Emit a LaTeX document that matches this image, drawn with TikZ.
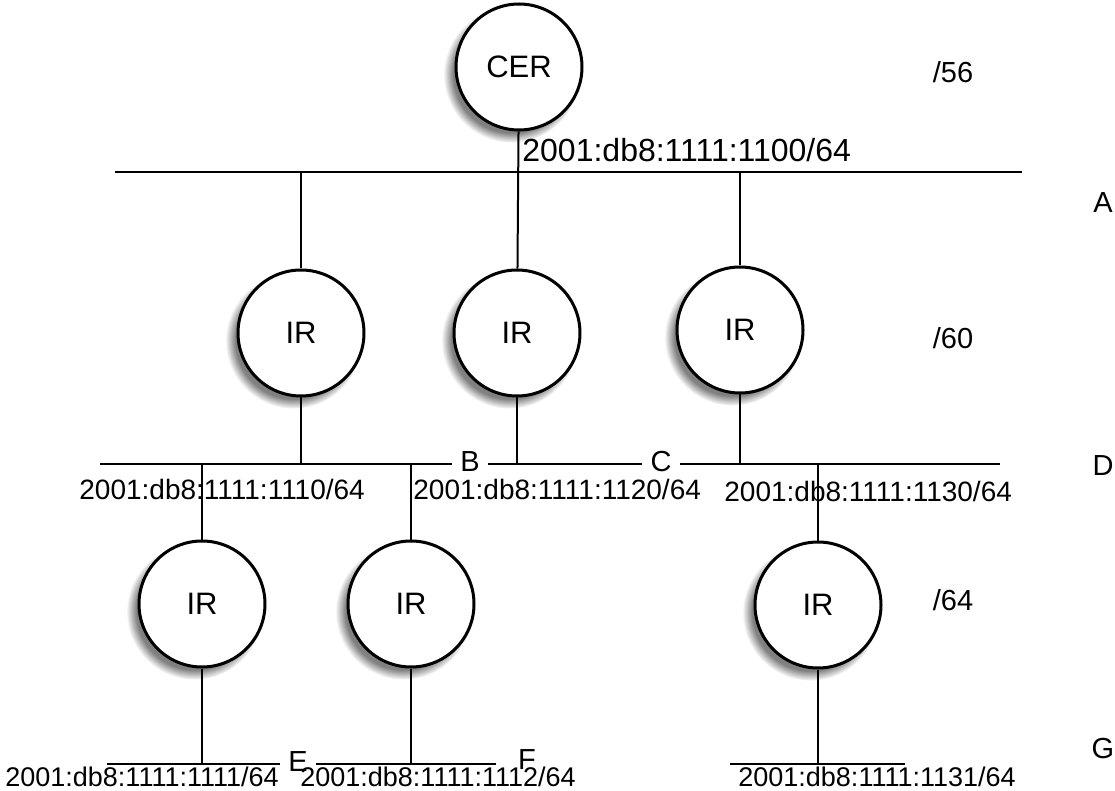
\documentclass[tikz,border=0pt]{standalone}
\usepackage{fontspec}
\setmainfont{Liberation Sans}
\usetikzlibrary{positioning, shadows, calc}

\begin{document}
\begin{tikzpicture}[
    x=0.5pt, y=-0.5pt,
    router/.style={
        circle, draw, line width=1.5pt, fill=white, minimum size=63pt, inner sep=0pt,
        font=\fontsize{15.5}{18}\selectfont,
        circular drop shadow={shadow xshift=-3.5pt, shadow yshift=-3.5pt, shadow scale=1.08}
    },
    link/.style={line width=1pt},
    addr/.style={font=\fontsize{14}{17}\selectfont, anchor=west, inner sep=0pt},
    level/.style={font=\fontsize{14.5}{17}\selectfont, inner sep=0pt},
    cut/.style={font=\fontsize{14.5}{17}\selectfont, inner xsep=4pt, inner ysep=0pt},
]

% ── Canvas ──
\useasboundingbox[fill=white] (0,0) rectangle (1115,791);

% ── Routers ──
\node[router] (cer) at (519,67)  {CER};
\node[router] (ir1) at (301,333) {IR};
\node[router] (ir2) at (517,333) {IR};
\node[router] (ir3) at (740,330) {IR};
\node[router] (ir4) at (202,604) {IR};
\node[router] (ir5) at (411,604) {IR};
\node[router] (ir6) at (818,605) {IR};

% ── Link ends ──
\coordinate (aL) at (115,172);
\coordinate (aR) at (1022,172);
\coordinate (dL) at (100,464);
\coordinate (dR) at (1000,464);
\coordinate (eL) at (107,764);
\coordinate (fR) at (496,764);
\coordinate (gL) at (730,764);
\coordinate (gR) at (905,764);

% ── Link labels ──
\node[cut] (B) at (470,462) {B};
\node[cut] (C) at (661,462) {C};
\node[cut] (E) at (298,762) {E};
\node[level] (F) at (527,760) {F};

% ── Levels ──
\node[level] (lvlA) at (1103,203) {A};
\node[level] (lvlD) at (1103,466) {D};
\node[level] (lvlG) at (1103,749) {G};
\node[level] (pre56) at (953,72)  {/56};
\node[level] (pre60) at (953,338) {/60};
\node[level] (pre64) at (953,600) {/64};

% ── Links ──
\draw[link] (aL) -- (aR);
\draw[link] (cer) -- (ir2);
\draw[link] (ir1) -- (ir1 |- aL);
\draw[link] (ir3) -- (ir3 |- aL);

\draw[link] (dL) -- (dL -| B.west)
            (dL -| B.east) -- (dL -| C.west)
            (dL -| C.east) -- (dR);
\draw[link] (ir1) -- (ir1 |- dL);
\draw[link] (ir2) -- (ir2 |- dL);
\draw[link] (ir3) -- (ir3 |- dL);
\draw[link] (ir4) -- (ir4 |- dL);
\draw[link] (ir5) -- (ir5 |- dL);
\draw[link] (ir6) -- (ir6 |- dL);

\draw[link] (eL) -- (eL -| E.west)
            (eL -| E.east) -- (fR);
\draw[link] (gL) -- (gR);
\draw[link] (ir4) -- (ir4 |- eL);
\draw[link] (ir5) -- (ir5 |- eL);
\draw[link] (ir6) -- (ir6 |- gL);

% ── Prefixes ──
\node[addr, font=\fontsize{16}{19}\selectfont] (netA) at (522,150) {2001:db8:1111:1100/64};
\node[addr] (net10) at (79,489)  {2001:db8:1111:1110/64};
\node[addr] (net20) at (413,489) {2001:db8:1111:1120/64};
\node[addr] (net30) at (724,491) {2001:db8:1111:1130/64};
\node[addr, font=\fontsize{13.5}{16}\selectfont] (net11) at (5,777)   {2001:db8:1111:1111/64};
\node[addr, font=\fontsize{13.5}{16}\selectfont] (net12) at (300,777) {2001:db8:1111:1112/64};
\node[addr, font=\fontsize{13.5}{16}\selectfont] (net31) at (738,777) {2001:db8:1111:1131/64};

\end{tikzpicture}
\end{document}
